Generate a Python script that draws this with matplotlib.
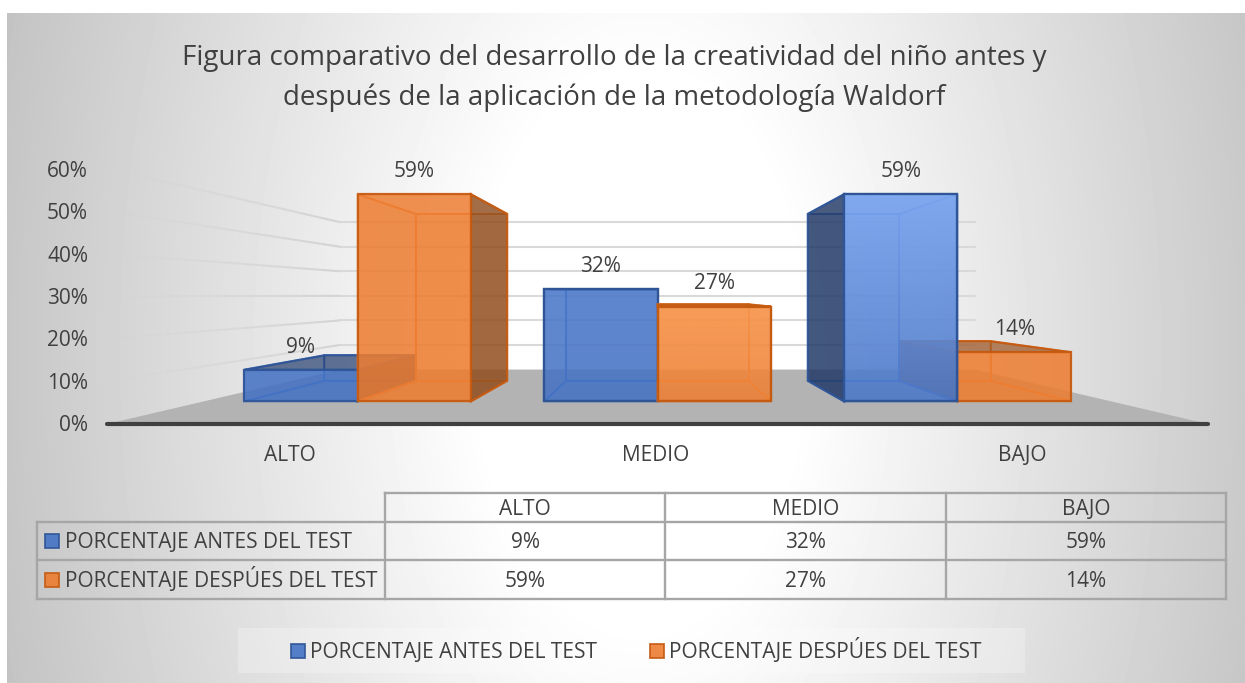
import numpy as np
import matplotlib.pyplot as plt
from matplotlib.colors import to_rgb
from matplotlib.patches import Polygon, Rectangle

plt.rcParams['font.family'] = ['Open Sans', 'DejaVu Sans']

title = "Figura comparativo del desarrollo de la creatividad del niño antes y\ndespués de la aplicación de la metodología Waldorf"
categories = ['ALTO', 'MEDIO', 'BAJO']
antes = [9, 32, 59]
despues = [59, 27, 14]
series_names = ['PORCENTAJE ANTES DEL TEST', 'PORCENTAJE DESPÚES DEL TEST']
y_ticks = [0, 10, 20, 30, 40, 50, 60]

TXT = '#404040'
FS = 15.0
BLUE, BLUE_EDGE, BLUE_DARK, BLUE_LIGHT = '#4472c4', '#2f5597', '#1f3560', '#8fb8ff'
ORANGE, ORANGE_EDGE, ORANGE_DARK, ORANGE_LIGHT = '#ed7d31', '#c55a11', '#8a4a1c', '#ffab66'

# brillo extra de la cara frontal de cada barra
brillo_antes = [0.0, 0.08, 0.70]
brillo_despues = [0.0, 0.50, 0.0]

# la camara: todo pasa por aqui
CX, HORIZON, FLOOR_K, UNIT = 657.5, 295.4, 128.6, 4.26
CAT_W, BAR_W = 364.0, 137.6
WALL_HALF = 550.5
S_FRONT, S_BACK, S_WALL = 0.824, 0.664, 0.5767


def project(x, v, s):
    # x en unidades de categoria (centro=1), v en %, s = escala de profundidad
    return CX + (x - 1) * CAT_W * s, HORIZON + s * (FLOOR_K - UNIT * v)


def face(ax, pts, color, alpha, edge, z, lw=1.6):
    ax.add_patch(Polygon(pts, closed=True, fc=color, alpha=alpha, ec='none', zorder=z))
    ax.add_patch(Polygon(pts, closed=True, fc='none', ec=edge, lw=lw, alpha=0.9, zorder=z, joinstyle='miter'))


def draw_bar(ax, x0, x1, v, color, edge, dark, light, z, brillo):
    pf = lambda x, h: project(x, h, S_FRONT)
    pb = lambda x, h: project(x, h, S_BACK)
    # cara trasera, suelo
    face(ax, [pb(x0, 0), pb(x1, 0), pb(x1, v), pb(x0, v)], color, 0.30, color, z, 1.2)
    face(ax, [pf(x0, 0), pf(x1, 0), pb(x1, 0), pb(x0, 0)], color, 0.30, color, z, 1.2)
    # lado interior y exterior segun donde cae respecto al centro
    mid = (x0 + x1) / 2
    if abs(mid - 1) < 0.4:
        outer = None
        for xs in (x0, x1):
            face(ax, [pf(xs, 0), pb(xs, 0), pb(xs, v), pf(xs, v)], color, 0.25, color, z, 1.2)
    else:
        inner, outer = (x0, x1) if mid < 1 else (x1, x0)
        face(ax, [pf(inner, 0), pb(inner, 0), pb(inner, v), pf(inner, v)], color, 0.25, color, z, 1.2)
    # tapa: oscura si se ve desde arriba
    top = [pf(x0, v), pf(x1, v), pb(x1, v), pb(x0, v)]
    if v < 30:
        face(ax, top, dark, 0.6, edge, z)
    else:
        face(ax, top, color, 0.15, color, z, 1.2)
    if outer is not None:
        face(ax, [pf(outer, 0), pb(outer, 0), pb(outer, v), pf(outer, v)], dark, 0.78, edge, z)
    front = [pf(x0, 0), pf(x1, 0), pf(x1, v), pf(x0, v)]
    face(ax, front, color, 0.82, edge, z)
    if brillo > 0:
        # degradado de color claro, mas fuerte arriba
        ramp = np.zeros((64, 2, 4))
        ramp[..., :3] = to_rgb(light)
        ramp[..., 3] = np.linspace(brillo, brillo * 0.1, 64)[:, None]
        xa, ya = pf(x0, v)
        xb, yb = pf(x1, 0)
        im = ax.imshow(ramp, extent=[xa, xb, yb, ya], aspect='auto', zorder=z, interpolation='bilinear')
        im.set_clip_path(Polygon(front, closed=True, transform=ax.transData))
        ax.add_patch(Polygon(front, closed=True, fc='none', ec=edge, lw=1.6, zorder=z, joinstyle='miter'))


def label(x, y, s, ha='center'):
    # y es el centro de las mayusculas, asi no baila con la tilde
    ax.text(x, y + 7.3, s, ha=ha, va='baseline', fontsize=FS, color=TXT, zorder=5)


def key(x, y, color, edge):
    ax.add_patch(Rectangle((x, y - 7.5), 14, 14, fc=color, alpha=0.9, ec=edge, lw=1.3, zorder=5))


fig = plt.figure(figsize=(12.45, 6.83), dpi=100)
ax = fig.add_axes([0, 0, 1, 1])
ax.axis('off')

# fondo con degradado radial
yy, xx = np.mgrid[13:683, 7:1245]
r = np.sqrt(((xx - 640) / 640.0) ** 2 + ((yy - 350) / 1100.0) ** 2)
grad = 255 - 57 * np.clip((r - 0.25) / 0.75, 0, 1.3)
ax.imshow(grad, cmap='gray', vmin=0, vmax=255, extent=[7, 1245, 683, 13], aspect='auto', zorder=0)

ax.text(614, 78, title, ha='center', va='center', fontsize=20, color=TXT, linespacing=1.57, zorder=5)

# paredes y suelo
wall_l = 1 - WALL_HALF / CAT_W
wall_r = 1 + WALL_HALF / CAT_W
for v in y_ticks[1:]:
    xl, yl = project(wall_l, v, 1.0)
    xm, ym = project(wall_l, v, S_WALL)
    xr, yr = project(wall_r, v, S_WALL)
    ax.plot([xm, xr], [ym, yr], color='#d9d9d9', lw=1.5, zorder=1)
    # la pared izquierda se desvanece hacia el borde
    tt = np.linspace(0, 1, 13)
    sx = xl + (xm - xl) * tt
    sy = yl + (ym - yl) * tt
    for k in range(12):
        ax.plot(sx[k:k + 2], sy[k:k + 2], color='#d4d4d4', lw=1.5, alpha=0.1 + 0.9 * k / 11,
                solid_capstyle='butt', zorder=1)
floor = [project(wall_l, 0, 1.0), project(wall_r, 0, 1.0), project(wall_r, 0, S_WALL), project(wall_l, 0, S_WALL)]
ax.add_patch(Polygon(floor, closed=True, fc='#b3b3b3', ec='none', zorder=1))
ax.plot([floor[0][0], floor[1][0]], [floor[0][1], floor[1][1]], color=TXT, lw=3, solid_capstyle='round', zorder=4)

# barras, de fuera hacia el centro
bw = BAR_W / CAT_W
bars = []
for i in range(len(categories)):
    bars.append((i - bw, i, antes[i], BLUE, BLUE_EDGE, BLUE_DARK, BLUE_LIGHT, brillo_antes[i]))
    bars.append((i, i + bw, despues[i], ORANGE, ORANGE_EDGE, ORANGE_DARK, ORANGE_LIGHT, brillo_despues[i]))
bars.sort(key=lambda b: -abs((b[0] + b[1]) / 2 - 1))
for n, (x0, x1, v, c, e, d, li, br) in enumerate(bars):
    draw_bar(ax, x0, x1, v, c, e, d, li, 2 + n * 0.01, br)
    lx, ly = project((x0 + x1) / 2, v, S_FRONT)
    label(lx, ly - 24.5, f'{v}%')

# ejes
for v in y_ticks:
    label(88, 424 - 4.24 * v, f'{v}%', ha='right')
for i, cat in enumerate(categories):
    label(656 + (i - 1) * 366.5, 454, cat)

# tabla de datos
col_x = [385, 665, 946, 1226]
row_y = [493, 522, 560, 599]
GRID = '#a6a6a6'
ax.plot([col_x[0], col_x[-1]], [row_y[0], row_y[0]], color=GRID, lw=1.7, zorder=3)
for y in row_y[1:]:
    ax.plot([37, col_x[-1]], [y, y], color=GRID, lw=1.7, zorder=3)
for x in col_x:
    ax.plot([x, x], [row_y[0], row_y[-1]], color=GRID, lw=1.7, zorder=3)
ax.plot([37, 37], [row_y[1], row_y[-1]], color=GRID, lw=1.7, zorder=3)
for j, cat in enumerate(categories):
    xc = (col_x[j] + col_x[j + 1]) / 2
    label(xc, 507.5, cat)
    label(xc, 541, f'{antes[j]}%')
    label(xc, 580, f'{despues[j]}%')

key(45, 541, BLUE, BLUE_EDGE)
key(45, 580, ORANGE, ORANGE_EDGE)
label(65, 541, series_names[0], ha='left')
label(65, 579.5, series_names[1], ha='left')

# leyenda
ax.add_patch(Rectangle((238, 628), 787, 45, fc='#ffffff', alpha=0.25, ec='none', zorder=2))
key(291, 651, BLUE, BLUE_EDGE)
key(650, 651, ORANGE, ORANGE_EDGE)
label(310, 651, series_names[0], ha='left')
label(669, 651, series_names[1], ha='left')

ax.set_xlim(0, 1245)
ax.set_ylim(683, 0)
plt.savefig('out.png', dpi=100)
